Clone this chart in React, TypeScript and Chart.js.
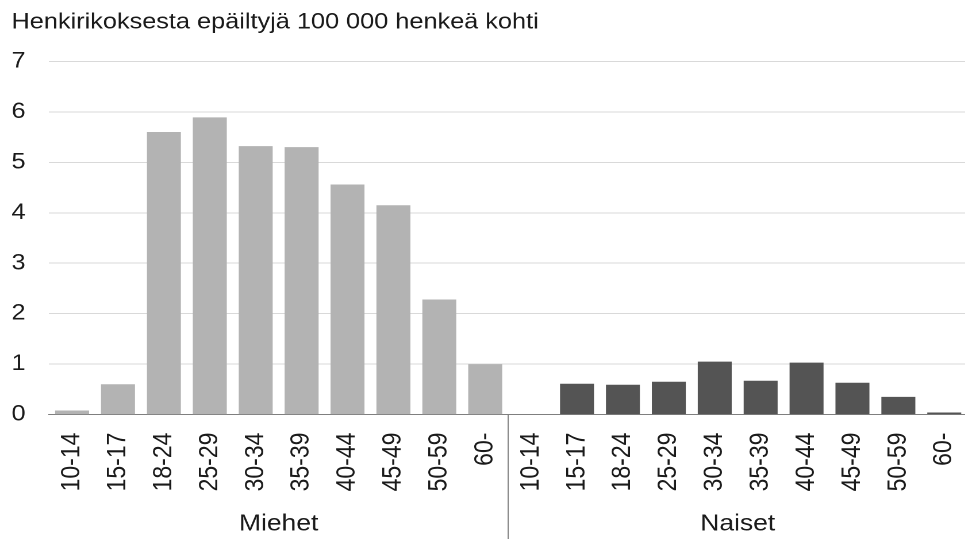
import React, { useEffect, useRef } from "react";
import { Chart, registerables } from "chart.js";

Chart.register(...registerables);

const title = "Henkirikoksesta epäiltyjä 100 000 henkeä kohti";
const ageGroups = ["10-14", "15-17", "18-24", "25-29", "30-34", "35-39", "40-44", "45-49", "50-59", "60-"];
const groups = ["Miehet", "Naiset"];
const miehet = [0.08, 0.6, 5.6, 5.89, 5.32, 5.3, 4.56, 4.15, 2.28, 1.0];
const naiset = [0.0, 0.61, 0.59, 0.65, 1.05, 0.67, 1.03, 0.63, 0.35, 0.04];
const yTicks = [0, 1, 2, 3, 4, 5, 6, 7];

const FONT = "'Liberation Sans', Arial, sans-serif";
const TEXT = "#1a1a1a";
const STRETCH = 1.15;
const CSS_W = 976;
const CSS_H = 539;
const CANVAS_W = Math.round(CSS_W / STRETCH);

const dividerPlugin = {
  id: "groupDivider",
  afterDraw(chart: any) {
    const x = chart.scales.x;
    const n = ageGroups.length;
    const px = (x.getPixelForValue(n - 1) + x.getPixelForValue(n)) / 2;
    const ctx = chart.ctx;
    ctx.save();
    ctx.strokeStyle = "#7f7f7f";
    ctx.lineWidth = 1;
    ctx.beginPath();
    ctx.moveTo(px, chart.chartArea.bottom);
    ctx.lineTo(px, chart.height);
    ctx.stroke();
    ctx.restore();
  },
};

export default function App() {
  const ref = useRef<HTMLCanvasElement | null>(null);
  useEffect(() => {
    if (!ref.current) return;
    const labels = [...ageGroups, ...ageGroups];
    const chart = new Chart(ref.current, {
      type: "bar",
      data: {
        labels,
        datasets: [
          {
            label: groups[0],
            data: [...miehet, ...naiset.map(() => null)],
            backgroundColor: "#b3b3b3",
            xAxisID: "x",
          },
          {
            label: groups[1],
            data: [...miehet.map(() => null), ...naiset],
            backgroundColor: "#545454",
            xAxisID: "x",
          },
        ],
      },
      options: {
        responsive: false,
        animation: false,
        devicePixelRatio: 2,
        events: [],
        datasets: { bar: { barPercentage: 0.74, categoryPercentage: 1 } },
        layout: { padding: { left: 10, right: 1, top: 0, bottom: 1 } },
        plugins: {
          legend: { display: false },
          tooltip: { enabled: false },
          title: {
            display: true,
            text: title,
            align: "start",
            color: TEXT,
            font: { family: FONT, size: 22, weight: "normal" },
            padding: { top: 9, bottom: 26 },
          },
        },
        scales: {
          x: {
            stacked: true,
            position: "bottom",
            grid: { display: false, drawTicks: true, tickLength: 18 },
            border: { display: true, color: "#7f7f7f", width: 1 },
            ticks: {
              color: TEXT,
              font: { family: FONT, size: 23 },
              minRotation: 90,
              maxRotation: 90,
              padding: 0,
              autoSkip: false,
            },
          },
          x2: {
            type: "category",
            labels: groups,
            position: "bottom",
            offset: true,
            grid: { display: false, drawTicks: true, tickLength: 19 },
            border: { display: false },
            ticks: {
              color: TEXT,
              font: { family: FONT, size: 23 },
              maxRotation: 0,
              minRotation: 0,
              padding: 0,
            },
          },
          y: {
            stacked: true,
            min: 0,
            max: 7,
            afterBuildTicks: (axis: any) => {
              axis.ticks = yTicks.map((v) => ({ value: v }));
            },
            grid: {
              color: (c: any) => (c.tick && c.tick.value === 0 ? "#7f7f7f" : "#d9d9d9"),
              lineWidth: 1,
              drawTicks: true,
              tickLength: 20.5,
              tickColor: "rgba(0,0,0,0)",
            },
            border: { display: false },
            ticks: {
              color: TEXT,
              font: { family: FONT, size: 22 },
              padding: 0,
            },
          },
        },
      },
      plugins: [dividerPlugin],
    });
    return () => chart.destroy();
  }, []);
  return (
    <div style={{ position: "fixed", left: 0, top: 0, width: 965, height: 539, overflow: "hidden", background: "#fff" }}>
      <canvas
        ref={ref}
        width={CANVAS_W}
        height={CSS_H}
        style={{ display: "block", width: CSS_W + "px", height: CSS_H + "px" }}
      />
    </div>
  );
}
